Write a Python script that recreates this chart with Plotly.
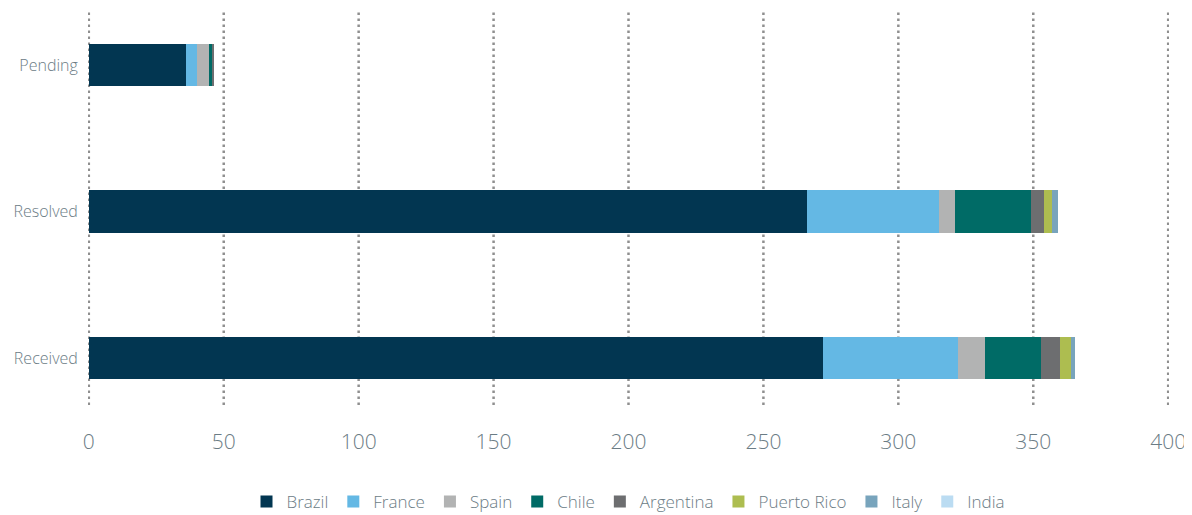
import plotly.graph_objects as go

categories = ["Received", "Resolved", "Pending"]
countries = ["Brazil", "France", "Spain", "Chile", "Argentina", "Puerto Rico", "Italy", "India"]
colors = ["#023651", "#64b8e4", "#b2b3b3", "#006b66", "#6d6e70", "#adbd50", "#78a4bc", "#bbdcf2"]

# values per country, in order Received / Resolved / Pending
brazil = [272, 266, 36]
france = [50, 49, 4]
spain = [10, 6, 4.5]
chile = [21, 28, 1.2]
argentina = [7, 5, 0.6]
puerto_rico = [4, 3, 0]
italy = [1.3, 2, 0]
india = [0, 0, 0]

series = [brazil, france, spain, chile, argentina, puerto_rico, italy, india]
x_ticks = [0, 50, 100, 150, 200, 250, 300, 350, 400]

fig = go.Figure()
for name, vals, col in zip(countries, series, colors):
    fig.add_trace(go.Bar(
        y=categories, x=vals, name=name, orientation="h",
        marker=dict(color=col, line=dict(width=0)), width=0.287,
    ))

# dotted vertical grid drawn as lines under the bars (plotly drops the one at 0)
for t in x_ticks:
    fig.add_vline(x=t, line=dict(color="#8f8f8f", width=2.5, dash="2.5px,3.5px"), layer="below")

# page body has an 8px margin, so the margins are pulled in by 8px
fig.update_layout(
    barmode="stack",
    width=1192, height=515,
    margin=dict(l=80, r=31, t=4, b=118, autoexpand=False),
    plot_bgcolor="white", paper_bgcolor="white",
    font=dict(family="Open Sans", color="#6b7c85", weight=300),
    showlegend=True,
    legend=dict(orientation="h", x=0.5, xanchor="center", y=-0.247, yanchor="middle",
                font=dict(size=17, color="#6b7c85", weight=300), traceorder="normal",
                itemwidth=30),
)
fig.update_xaxes(
    range=[-0.3, 400.3], tickvals=x_ticks, showgrid=False,
    zeroline=False, showline=False, automargin=False,
    ticks="outside", ticklen=18, tickcolor="rgba(0,0,0,0)",
    tickfont=dict(size=21, color="#6b7c85", weight=300),
)
fig.update_yaxes(
    range=[-0.321, 2.362], showgrid=False, zeroline=False, showline=False,
    automargin=False,
    ticks="outside", ticklen=6, tickcolor="rgba(0,0,0,0)",
    tickfont=dict(size=16, color="#6b7c85", weight=300),
)

fig.write_html("out.html")
